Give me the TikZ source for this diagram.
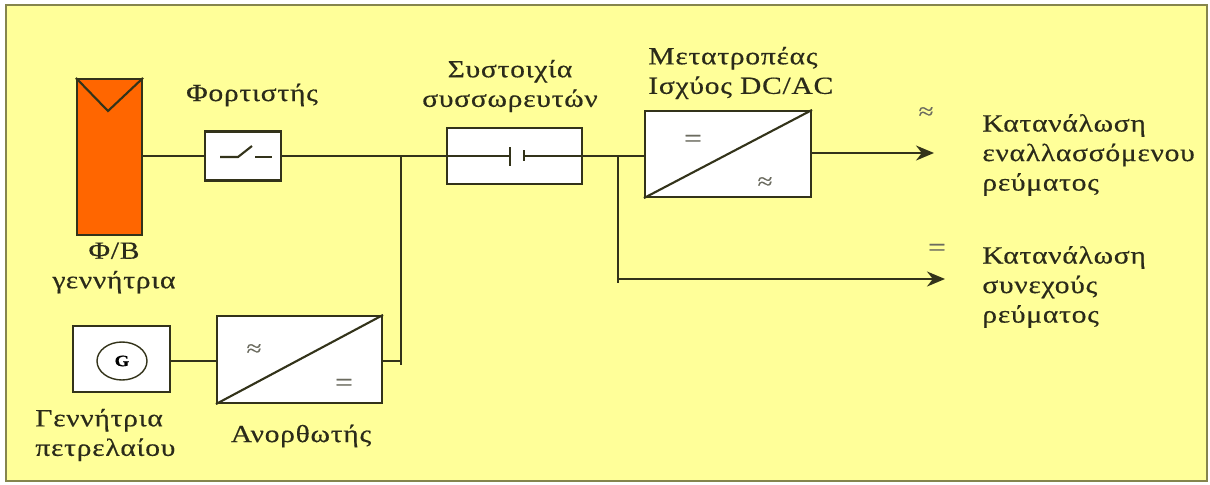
\documentclass[tikz,border=0pt]{standalone}
\usepackage{fontspec}
\setmainfont[FakeStretch=1.2, FakeBold=0.4]{Liberation Serif}
\usetikzlibrary{arrows.meta, shapes.geometric}
\definecolor{panelyellow}{HTML}{FFFF99}
\definecolor{pvorange}{HTML}{FF6600}
\definecolor{wirecol}{HTML}{33331A}
\definecolor{textcol}{HTML}{2B2B1A}
\tikzset{
  unitbox/.style={draw=wirecol, fill=white, line width=1.2pt, inner sep=0pt},
  wire/.style={draw=wirecol, line width=1.2pt},
  feed/.style={wire, -{Stealth[length=0.36cm, width=0.3cm]}},
  caption/.style={text=textcol, inner sep=0pt, align=left, font=\fontsize{14}{16.8}\selectfont\addfontfeature{LetterSpace=3}},
  dcmark/.style={text=textcol!70, inner sep=0pt, font=\fontsize{15}{15}\selectfont},
  acmark/.style={text=textcol!70, inner sep=0pt, font=\fontsize{13}{13}\selectfont}
}
\begin{document}
\begin{tikzpicture}[x=0.02cm, y=-0.02cm]
  \useasboundingbox (0,0) rectangle (1210,484);
  \node[draw=wirecol!60!panelyellow, fill=panelyellow, line width=1.4pt, inner sep=0pt, minimum width=24.02cm, minimum height=9.52cm] (frame) at (606.5,243) {};
  % PV generator
  \node[draw=wirecol, fill=pvorange, line width=1.2pt, inner sep=0pt, minimum width=1.3cm, minimum height=3.12cm] (pv) at (109.5,157) {};
  \draw[wire] (pv.north west) -- (108,111) -- (pv.north east);
  \node[caption, align=center] (pvlabel) at (114,268) {Φ/Β\\γεννήτρια};
  % charger
  \node[unitbox, minimum width=1.52cm, minimum height=0.98cm] (charger) at (243,156) {};
  \draw[wire] (220,157) -- (238,157) -- (252,146);
  \draw[wire] (255,157) -- (272,157);
  \node[caption] (chargerlabel) at (252,95) {Φορτιστής};
  % battery
  \node[unitbox, minimum width=2.7cm, minimum height=1.12cm] (battery) at (514.5,156) {};
  \coordinate (plateA) at (510,156);
  \coordinate (plateB) at (524,156);
  \draw[wire] (510,147) -- (510,166);
  \draw[wire] (524,150) -- (524,161);
  \node[caption, align=center] (batterylabel) at (510,86) {Συστοιχία\\συσσωρευτών};
  % inverter
  \node[unitbox, minimum width=3.32cm, minimum height=1.72cm] (inverter) at (728,154) {};
  \draw[wire] (inverter.south west) -- (inverter.north east);
  \node[dcmark] (invdc) at (693,141) {=};
  \node[acmark] (invac) at (765,183) {≈};
  \node[caption, anchor=west] (inverterlabel) at (648,73) {Μετατροπέας\\Ισχύος DC/AC};
  % generator
  \node[unitbox, minimum width=1.94cm, minimum height=1.32cm] (gen) at (121.5,359) {};
  \node[draw=wirecol, fill=white, line width=0.8pt, ellipse, minimum width=1cm, minimum height=0.76cm, inner sep=0pt, font=\small\bfseries] (gensym) at (122,361) {G};
  \node[caption, anchor=west] (genlabel) at (35,435) {Γεννήτρια\\πετρελαίου};
  % rectifier
  \node[unitbox, minimum width=3.3cm, minimum height=1.74cm] (rect) at (299.5,359.5) {};
  \draw[wire] (rect.south west) -- (rect.north east);
  \node[acmark] (rectac) at (254,350) {≈};
  \node[dcmark] (rectdc) at (344,385) {=};
  \node[caption] (rectlabel) at (301,436) {Ανορθωτής};
  % connections
  \coordinate (busA) at (401,156);
  \coordinate (busAend) at (401,365);
  \coordinate (busB) at (618,156);
  \coordinate (busBend) at (618,283);
  \coordinate (loadAC) at (934,153);
  \coordinate (loadDC) at (945,279);
  \draw[wire] (pv.east |- charger.west) -- (charger.west);
  \draw[wire] (charger.east) -- (busA) -- (busAend);
  \draw[wire] (busA) -- (plateA);
  \draw[wire] (plateB) -- (busB) -- (busBend);
  \draw[wire] (busB) -- (inverter.west |- busB);
  \draw[wire] (gen.east |- gensym) -- (rect.west |- gensym);
  \draw[wire] (rect.east |- gensym) -- (busAend |- gensym);
  \draw[feed] (inverter.east |- loadAC) -- (loadAC);
  \draw[feed] (busB |- loadDC) -- (loadDC);
  % loads
  \node[acmark] (acsign) at (926,113) {≈};
  \node[dcmark] (dcsign) at (937,250) {=};
  \node[caption, anchor=west] (aclabel) at (982,155) {Κατανάλωση\\εναλλασσόμενου\\ρεύματος};
  \node[caption, anchor=west] (dclabel) at (982,287) {Κατανάλωση\\συνεχούς\\ρεύματος};
\end{tikzpicture}
\end{document}
